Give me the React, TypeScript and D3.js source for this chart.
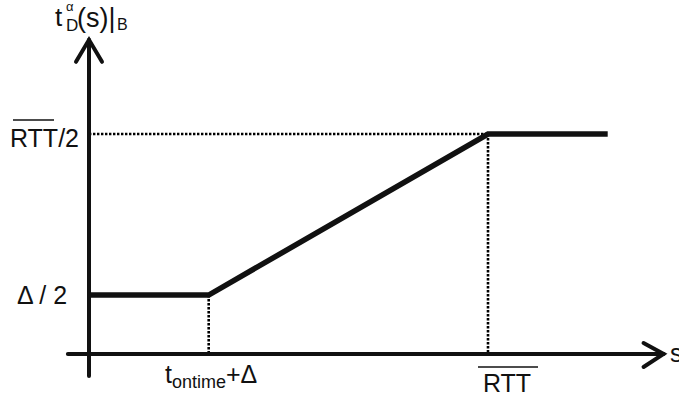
import React from "react";
import * as d3 from "d3";

// Delay profile breakpoints (s in units of mean RTT, delay in units of mean RTT)
const sBreaks = [0, 0.3, 1.0, 1.3];
const delayValues = [0.134, 0.134, 0.5, 0.5];
// Axis extents
const sExtent = [-0.053, 1.44];
const delayExtent = [-0.05, 0.714];
// Guide positions for the labelled breakpoints
const sGuides = [0.3, 1.0];
const delayGuides = [0.134, 0.5];

const W = 679;
const H = 403;

export default function App() {
  const x = d3.scaleLinear().domain([0, 1]).range([89, 488]);
  const y = d3.scaleLinear().domain([0, 0.5]).range([354, 134]);

  const pts: [number, number][] = sBreaks.map((s, i) => [s, delayValues[i]]);
  const line = d3
    .line<[number, number]>()
    .x((d) => x(d[0]))
    .y((d) => y(d[1]));

  const font = "'Liberation Sans', Arial, sans-serif";
  const x0 = x(0);
  const y0 = y(0);
  const xEnd = x(sExtent[1]);
  const yTop = y(delayExtent[1]);

  return (
    <svg
      width={W}
      height={H}
      style={{ position: "absolute", left: 0, top: 0, background: "#fff" }}
      fontFamily={font}
    >
      {/* dotted guide lines */}
      <g stroke="#000" strokeWidth={2.6} strokeDasharray="2.4 1.6" fill="none">
        <line x1={x0} x2={x(sGuides[1])} y1={y(delayGuides[1])} y2={y(delayGuides[1])} />
        <line x1={x(sGuides[0])} x2={x(sGuides[0])} y1={y(delayGuides[0])} y2={y0} />
        <line x1={x(sGuides[1])} x2={x(sGuides[1])} y1={y(delayGuides[1])} y2={y0} />
      </g>

      {/* axes */}
      <g stroke="#111" strokeWidth={4} strokeLinecap="round" fill="none">
        <line x1={x(sExtent[0])} x2={xEnd} y1={y0} y2={y0} />
        <line x1={x0} x2={x0} y1={y(delayExtent[0])} y2={yTop} />
        <polyline
          points={`${xEnd - 20},${y0 - 11} ${xEnd},${y0} ${xEnd - 20},${y0 + 13}`}
          strokeLinejoin="miter"
        />
        <polyline
          points={`${x0 - 13},${yTop + 22} ${x0},${yTop} ${x0 + 13},${yTop + 22}`}
          strokeLinejoin="miter"
        />
      </g>

      {/* delay curve */}
      <path
        d={line(pts) || ""}
        fill="none"
        stroke="#111"
        strokeWidth={5.5}
        strokeLinejoin="miter"
      />

      {/* y labels */}
      <g fill="#111" fontSize={25}>
        <text x={10} y={147}>RTT/2</text>
        <line x1={13} x2={54} y1={120} y2={120} stroke="#111" strokeWidth={1.6} />
        <text x={17} y={304}>Δ / 2</text>
      </g>

      {/* x labels */}
      <g fill="#111" fontSize={25}>
        <text x={165} y={383}>
          t
          <tspan fontSize={18} dy={5}>ontime</tspan>
          <tspan dy={-5}>+Δ</tspan>
        </text>
        <text x={483} y={392}>RTT</text>
        <line x1={478} x2={538} y1={367} y2={367} stroke="#111" strokeWidth={1.6} />
        <text x={670} y={362}>s</text>
      </g>

      {/* y-axis title */}
      <g fill="#111">
        <text x={55} y={26} fontSize={26}>t</text>
        <text x={66} y={11} fontSize={13}>α</text>
        <text x={66} y={31} fontSize={17}>D</text>
        <text x={77} y={27} fontSize={27}>(s)|</text>
        <text x={117} y={30} fontSize={16}>B</text>
      </g>
    </svg>
  );
}
